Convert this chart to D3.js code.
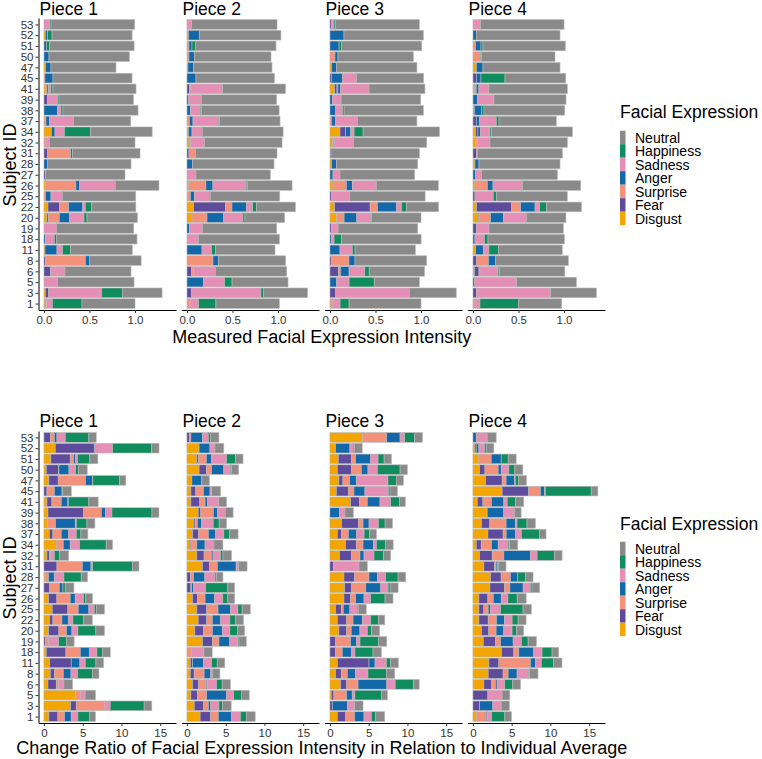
<!DOCTYPE html>
<html><head><meta charset="utf-8">
<script src="https://cdn.jsdelivr.net/npm/d3@7"></script>
<style>body{margin:0;background:#fff}svg{display:block}text{font-family:"Liberation Sans",Arial,Helvetica,sans-serif}</style>
</head><body><svg id="chart" width="762" height="759"></svg>
<script>
// Subjects listed top to bottom as displayed
const subjects = [53,52,51,50,47,45,41,39,38,37,34,32,31,28,27,26,25,22,20,19,18,11,8,6,5,3,1];
// Stack order left to right
const emotions = ["Disgust","Fear","Surprise","Anger","Sadness","Happiness","Neutral"];
const emotionColors = ["#f3a500","#5f4b9b","#f4917a","#1368aa","#e68fb6","#118c5f","#8a8a8a"];
const pieceNames = ["Piece 1","Piece 2","Piece 3","Piece 4"];
const legendTitle = "Facial Expression";
const topAxisTitle = "Measured Facial Expression Intensity";
const bottomAxisTitle = "Change Ratio of Facial Expression Intensity in Relation to Individual Average";
const yAxisTitle = "Subject ID";
const topTicks = [0, 0.5, 1.0];
const topTickLabels = ["0.0","0.5","1.0"];
const bottomTicks = [0, 5, 10, 15];
const bottomTickLabels = ["0","5","10","15"];

// Rows: [Disgust, Fear, Surprise, Anger, Sadness, Happiness, Neutral], subjects in display order
const intensityPiece1 = [
[0,0,0,0,.062,.015,.919],[.015,0,0,.026,0,.048,.879],[0,0,0,.026,0,.037,.927],[0,0,0,.055,0,0,.883],
[.018,0,0,.059,0,0,.714],[0,0,.011,.088,0,0,.868],[.015,0,.018,.018,.026,.022,.912],[0,.037,0,0,.114,.015,.817],
[0,0,0,.147,.04,.022,.824],[0,0,.022,.037,.264,0,.63],[.081,0,0,.04,.103,.286,.678],[0,0,.022,0,.037,0,.941],
[0,.04,.253,0,0,.022,.74],[0,0,0,.04,0,0,.916],[0,.018,0,0,0,0,.872],[.018,0,.333,.04,.392,0,.48],
[0,0,.018,.059,.125,0,.806],[.044,.125,.103,.154,.029,.07,.484],[.033,.018,.117,.114,.158,.033,.553],[0,0,0,0,.136,0,.85],
[0,0,0,.015,.099,.022,.886],[.011,0,0,.132,.062,.084,.681],[0,.015,.44,.048,0,0,.564],[0,.07,0,0,.161,0,.725],
[0,0,0,0,.15,0,.839],[.015,.037,0,0,.582,.227,.436],[.011,0,.015,0,.066,.326,.582]];
const intensityPiece2 = [
[0,0,0,0,.051,0,.938],[.018,0,0,.117,0,0,.897],[0,0,.022,.033,0,.037,.886],[0,0,.022,.062,0,0,.839],
[.011,0,0,.062,0,0,.861],[0,0,0,.099,0,0,.861],[0,.026,.018,0,.348,0,.689],[0,0,0,.018,.139,0,.828],
[0,0,0,.037,.11,.015,.85],[0,0,.026,.04,.282,.011,.663],[.018,0,0,.037,.103,.015,.883],[.022,0,.015,0,.157,0,.85],
[0,.022,.07,0,0,0,.897],[0,0,0,.062,0,0,.894],[0,0,0,0,.099,0,.817],[.018,0,.19,.077,.366,.011,.492],
[0,0,.037,.044,.165,.011,.762],[.073,.348,.073,.158,.07,.04,.429],[.055,0,.165,.183,.212,.022,.436],[0,0,0,.026,.147,0,.813],
[0,0,0,0,.125,0,.89],[0,0,0,.165,.106,.044,.652],[0,0,.286,.062,0,0,.736],[0,.048,.026,0,.238,0,.784],
[0,0,0,.183,.231,.081,.615],[0,.051,0,0,.762,.029,.483],[0,0,.029,0,.099,.19,.696]];
const intensityPiece3 = [
[0,.018,0,0,.026,.018,.919],[0,0,0,.154,0,0,.871],[0,0,0,.1,0,.026,.882],[0,0,.055,.033,0,0,.827],
[.018,0,0,.055,0,0,.882],[0,.015,0,.121,.158,0,.735],[.051,.026,.01,.029,.313,0,.614],[0,0,0,.026,.096,0,.875],
[0,0,0,.063,.074,.018,.871],[0,0,.018,.044,.239,0,.654],[.11,.063,0,.055,.037,.099,.838],[.026,0,.026,0,.206,0,.805],
[0,.01,0,0,0,0,.972],[.018,0,0,.055,0,0,.89],[0,0,0,.033,.077,0,.82],[.033,0,.147,.066,.257,.007,.68],
[0,.018,0,0,.2,0,.827],[.051,.39,.081,.21,.055,.055,.35],[.074,0,.081,.14,.154,.007,.544],[0,.015,0,0,.074,0,.875],
[0,0,0,.015,.03,.081,.875],[0,0,0,.11,.136,.03,.662],[0,.018,.191,.066,0,0,.787],[0,.092,.026,.092,.173,.048,.607],
[0,0,0,.074,.136,.276,.496],[0,.063,0,0,.809,0,.515],[0,0,.026,0,.085,.099,.79]];
const intensityPiece4 = [
[0,0,0,0,.084,0,.916],[0,0,0,.037,0,0,.919],[0,0,.029,.059,0,.022,.905],[0,0,.084,0,0,.007,.81],
[.037,0,0,.073,0,0,.846],[0,.037,0,.051,0,.264,.667],[.018,0,.018,.029,.11,0,.861],[0,0,0,.051,.18,0,.791],
[.015,0,0,.08,0,.026,.886],[0,.037,0,.037,.183,.029,.63],[.029,.026,0,.026,.106,.015,.89],[.029,0,.022,0,.136,0,.85],
[0,.037,.011,0,0,0,.934],[.022,0,0,.044,0,0,.89],[0,0,0,.029,.066,0,.832],[.022,0,.136,.062,.315,.011,.637],
[0,.022,0,0,.201,.033,.78],[.04,.381,.103,.158,.051,.073,.385],[.059,.007,.128,.139,.256,0,.432],[0,.037,0,0,.139,0,.817],
[0,0,0,.022,.106,.037,.839],[.029,0,0,.084,.062,.103,.703],[0,.037,.132,.081,0,0,.798],[.018,.048,.011,0,.2,.018,.714],
[0,.018,0,0,.462,0,.656],[0,.037,0,0,.817,0,.502],[0,0,.022,0,.055,.421,.476]];

const ratioPiece1 = [
[0,.82,.52,.34,1.07,3.05,.95],[1.46,5.03,0,.1,2.28,5.03,.95],[.9,2.49,.43,.26,.26,1.55,1.07],[.3,1.59,.05,1.29,.86,.34,1.16],
[.64,1.2,3.52,.9,.05,3.44,.82],[0,.39,.95,.99,.04,0,1.16],[.39,.64,1.2,.86,.05,2.66,1.2],[.52,4.6,2.28,.52,.86,5.16,.9],
[.47,0,1.03,2.54,.13,1.38,1.03],[.69,.47,1.07,.95,.99,.6,.9],[1.59,0,.9,.9,1.2,3.44,.82],[.39,.3,.2,0,.45,.69,1.16],
[0,1.68,3.27,1.12,.21,5.16,.82],[.13,0,.47,.73,1.25,2.23,.82],[0,.73,1.25,.47,0,.3,1.12],[.6,1.07,1.72,.64,1.07,.3,.86],
[1.07,2.02,1.33,1.38,.69,.26,1.07],[.73,.43,1.16,.82,.6,1.38,1.12],[.6,1.33,.99,.69,.77,2.32,1.12],[0,.2,.35,.05,1.3,1.05,.95],
[.3,2.54,1.85,1.16,.99,.73,.99],[.73,2.79,0,1.12,.69,1.38,.99],[.82,.52,1.16,.99,.86,1.89,.86],[.52,1.07,.3,0,.64,.05,1.12],
[4.08,0,.6,0,.64,0,1.33],[3.44,.73,3.61,0,.77,4.38,.99],[.64,1.16,.86,.86,.86,1.5,.77]];
const ratioPiece2 = [
[0,.34,.17,1.49,.77,.3,1.06],[1.57,0,0,1.4,.64,0,1.15],[1.28,.21,1.02,.64,1.96,1.15,.98],[1.57,.94,.68,1.57,.85,.13,.94],
[.64,0,0,1.23,0,0,1.02],[.51,.64,.98,.85,.21,0,1.15],[.51,1.15,.68,.3,1.49,0,.98],[1.45,.34,1.62,.51,1.02,0,1.02],
[.85,.2,.3,.51,1.53,.77,.94],[.72,.77,1.28,.94,1.06,.72,1.11],[.34,.17,.77,1.06,1.06,.09,1.15],[1.28,.94,.94,.21,.98,.3,1.11],
[2.0,.94,.98,2.43,.3,0,1.11],[0,.43,.43,1.45,1.32,.17,.85],[0,.51,.1,.24,1.57,2.85,.89],[.72,.64,.98,1.23,1.06,.64,.89],
[1.28,1.28,1.45,1.62,.94,.55,1.06],[1.45,1.11,.72,1.06,1.19,.72,1.06],[1.02,1.11,1.15,1.28,.98,1.02,.89],[2.0,1.28,.85,1.4,1.06,.13,.94],
[0,0,.6,0,1.6,0,1.06],[.43,.3,0,1.4,1.06,.72,.98],[.43,.51,1.28,.85,.21,0,.98],[.72,.77,1.02,.13,1.19,.72,1.06],
[.51,.85,1.19,2.55,.94,.98,1.02],[.94,1.19,.64,.3,1.06,.43,1.15],[1.7,1.36,.98,1.7,1.15,.77,1.15]];
const ratioPiece3 = [
[4.18,0,3.15,1.72,.6,1.29,.99],[.73,0,0,1.85,.43,.13,1.03],[1.08,1.68,.56,1.94,.95,.78,.95],[.95,1.85,1.25,.86,1.21,2.93,.95],
[1.16,.52,.86,.86,4.09,1.08,.91],[.82,1.55,.73,1.42,3.02,.22,.95],[2.67,1.16,.99,1.64,1.38,1.16,.73],[0,0,0,1.25,.69,0,1.08],
[1.51,2.16,.6,.78,1.21,.86,.95],[.95,.52,.91,1.08,.95,.73,.86],[2.03,1.38,.86,1.34,.39,1.21,.95],[1.25,1.51,1.12,.52,1.29,1.21,.95],
[0,.43,0,0,3.32,0,1.08],[1.81,1.38,1.85,1.08,1.08,1.59,.99],[1.9,.91,1.81,1.94,.95,.26,1.03],[1.81,.86,.65,1.08,.86,1.85,1.03],
[.73,.73,.26,.86,.95,.13,1.03],[.95,1.21,.82,1.21,1.08,.99,.82],[1.16,.99,.6,1.12,.95,.56,1.03],[0,.73,1.94,.78,.43,2.37,1.08],
[0,.73,.86,1.21,.43,2.33,1.08],[.95,4.09,0,.78,1.47,.56,.99],[.73,.73,.78,1.08,1.59,2.37,1.08],[1.38,.78,1.47,3.71,1.08,2.37,.73],
[.17,.34,1.64,.73,.34,3.41,.78],[0,.3,0,1.94,.95,0,1.08],[.95,1.08,1.16,1.21,.95,.56,1.16]];
const ratioPiece4 = [
[0,0,0,.43,1.41,0,1.16],[.26,.17,0,.34,.73,.21,.99],[.77,0,1.59,1.29,0,.9,1.03],[.86,.69,1.71,.39,.99,.77,1.03],
[1.63,2.14,.51,1.11,.09,.43,.99],[3.77,3.43,1.5,.56,.09,5.91,.86],[.56,.73,1.11,1.59,.43,1.07,1.07],[1.84,0,0,2.14,1.29,.09,.86],
[1.11,1.07,2.1,1.2,.21,1.29,1.07],[1.93,1.97,.39,1.2,.77,2.31,.86],[.43,.64,1.33,.86,1.29,.17,1.07],[.86,1.63,1.5,3.43,.86,2.23,.99],
[1.41,1.37,.21,.21,0,.13,.94],[2.27,1.37,1.2,.94,0,.99,.99],[2.19,1.89,.69,1.71,.94,.21,.99],[.77,1.16,.69,1.03,.86,1.2,1.16],
[.77,.64,.56,.3,1.29,2.91,1.07],[.77,1.2,1.07,1.03,.99,.77,1.03],[1.11,.94,.94,.99,1.07,.56,.94],[1.33,1.59,.64,1.63,1.07,.86,1.07],
[3.69,1.59,.64,1.93,1.07,1.29,.86],[2.06,1.29,4.07,.64,.77,1.59,1.07],[1.97,1.93,.64,1.16,1.5,.09,1.11],[1.41,.99,.51,.21,.99,1.03,.99],
[0,1.93,0,0,1.84,0,.99],[0,.86,0,1.71,1.07,0,1.07],[.43,0,1.29,.13,.56,1.71,.86]];

const svg = d3.select("#chart");
const color = d3.scaleOrdinal().domain(emotions).range(emotionColors);
const L = {panelLeft: 38.5, panelStep: 143, panelW: 137.5, panelH: 292};
const FONT = '"Liberation Sans",Arial,sans-serif';

function toRecords(rows) {
  return rows.map((r, i) => {
    const o = {subject: subjects[i]};
    emotions.forEach((e, j) => o[e] = r[j]);
    return o;
  });
}

function drawSection(cfg) {
  const g = svg.append("g");
  const y = d3.scalePoint().domain(subjects).range([cfg.y0, cfg.y0 + L.panelH]).padding(0.6);
  const bh = y.step() * 0.9;
  const stack = d3.stack().keys(emotions);
  cfg.datasets.forEach((rows, p) => {
    const left = L.panelLeft + p * L.panelStep;
    const x = d3.scaleLinear().domain(cfg.xDomain).range([left, left + L.panelW]);
    const series = stack(toRecords(rows));
    const pg = g.append("g");
    pg.selectAll("g.s").data(series).join("g").attr("fill", d => color(d.key))
      .selectAll("rect").data(d => d.filter(v => v[1] - v[0] > 0)).join("rect")
      .attr("x", d => x(d[0])).attr("width", d => x(d[1]) - x(d[0]))
      .attr("y", d => y(d.data.subject) - bh / 2).attr("height", bh)
      .attr("stroke", "#b8b8b8").attr("stroke-width", 0.6);
    const xa = pg.append("g").attr("transform", `translate(0,${cfg.y0 + L.panelH})`)
      .call(d3.axisBottom(x).tickValues(cfg.ticks).tickFormat((d, i) => cfg.tickLabels[i]).tickSize(3).tickSizeOuter(0).tickPadding(3));
    xa.select(".domain").attr("stroke", "#000").attr("stroke-width", 1);
    xa.selectAll(".tick line").attr("stroke", "#333");
    xa.selectAll(".tick text").attr("font-size", 11.5).attr("fill", "#333").style("font-family", FONT);
    pg.append("text").attr("x", left + 1).attr("y", cfg.titleBase).attr("font-size", 17.5).attr("fill", "#000").text(pieceNames[p]);
    if (p === 0) {
      const ya = pg.append("g").attr("transform", `translate(${left},0)`)
        .call(d3.axisLeft(y).tickSize(3).tickSizeOuter(0).tickPadding(2));
      ya.select(".domain").attr("stroke", "#000").attr("stroke-width", 1);
      ya.selectAll(".tick line").attr("stroke", "#333");
      ya.selectAll(".tick text").attr("font-size", 11.5).attr("fill", "#333").style("font-family", FONT);
    }
  });
  // axis titles
  g.append("text").attr("x", (L.panelLeft + 3 * L.panelStep + L.panelW + L.panelLeft) / 2).attr("y", cfg.xTitleBase)
    .attr("text-anchor", "middle").attr("font-size", 18).attr("fill", "#000").text(cfg.xTitle);
  g.append("text").attr("transform", `translate(15.5,${cfg.y0 + L.panelH / 2 + 1}) rotate(-90)`)
    .attr("text-anchor", "middle").attr("font-size", 18).attr("fill", "#000").text(yAxisTitle);
  // legend
  const lg = g.append("g");
  lg.append("text").attr("x", 620).attr("y", cfg.legendTitleBase).attr("font-size", 17.5).attr("fill", "#000").text(legendTitle);
  const order = emotions.slice().reverse();
  order.forEach((e, i) => {
    const ky = cfg.legendKeyTop + i * 13.5;
    lg.append("rect").attr("x", 620).attr("y", ky).attr("width", 5.5).attr("height", 13.5).attr("fill", color(e));
    lg.append("text").attr("x", 635).attr("y", ky + 11.8).attr("font-size", 14).attr("fill", "#000").text(e);
  });
}

drawSection({y0: 18, datasets: [intensityPiece1, intensityPiece2, intensityPiece3, intensityPiece4],
  xDomain: [-0.06, 1.45], ticks: topTicks, tickLabels: topTickLabels, xTitle: topAxisTitle,
  titleBase: 15, xTitleBase: 343, legendTitleBase: 118, legendKeyTop: 130.7});
drawSection({y0: 431, datasets: [ratioPiece1, ratioPiece2, ratioPiece3, ratioPiece4],
  xDomain: [-0.7, 17.04], ticks: bottomTicks, tickLabels: bottomTickLabels, xTitle: bottomAxisTitle,
  titleBase: 427, xTitleBase: 754, legendTitleBase: 529.5, legendKeyTop: 541.7});
</script></body></html>
